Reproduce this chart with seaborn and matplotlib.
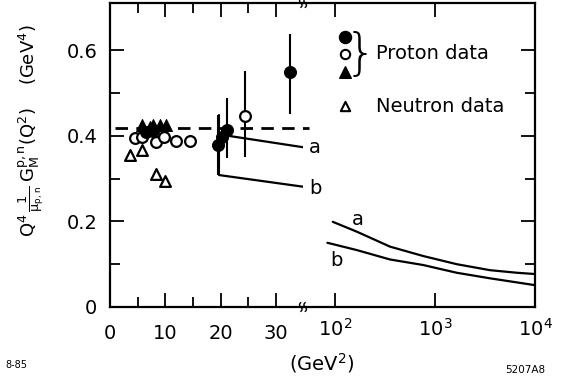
import matplotlib
matplotlib.use("Agg")
import matplotlib.pyplot as plt
from matplotlib.lines import Line2D
import seaborn as sns
import numpy as np
import pandas as pd

# ---------------- data ----------------
# proton data (filled circles)
fc_x = [6.6, 7.8, 19.5, 20.3, 21.1, 32.5]
fc_y = [0.409, 0.411, 0.378, 0.397, 0.413, 0.549]
# proton data (open circles)
oc_x = [4.5, 5.8, 8.4, 9.8, 12.0, 14.5, 24.4]
oc_y = [0.394, 0.398, 0.386, 0.398, 0.388, 0.388, 0.446]
# proton data (filled triangles)
ft_x = [5.7, 7.2, 7.8, 9.0, 10.2]
ft_y = [0.424, 0.420, 0.425, 0.424, 0.425]
# neutron data (open triangles)
ot_x = [3.7, 5.8, 8.4, 10.0]
ot_y = [0.355, 0.367, 0.310, 0.294]
# error bars
err_x = [19.5, 21.1, 24.4, 32.5]
err_lo = [0.308, 0.348, 0.350, 0.451]
err_hi = [0.448, 0.488, 0.551, 0.637]
err_y = [0.378, 0.413, 0.446, 0.549]
# dashed reference level
dash_x = [0.9, 36.0]
dash_y = [0.418, 0.418]
# model curves, linear region
la_x = [21.3, 35.0]
la_y = [0.400, 0.373]
lb_x = [19.8, 34.9]
lb_y = [0.308, 0.281]
# model curves, log region
ca_x = [95, 165, 355, 764, 1648, 3548, 6560, 10000]
ca_y = [0.199, 0.176, 0.141, 0.119, 0.100, 0.086, 0.080, 0.077]
cb_x = [84, 165, 355, 764, 1648, 3548, 10000]
cb_y = [0.150, 0.133, 0.111, 0.098, 0.080, 0.067, 0.051]

lin_ticks = [0, 10, 20, 30]
lin_minor = [5, 15, 25]
log_ticks = [100, 1000, 10000]
log_labels = ["$10^2$", "$10^3$", "$10^4$"]
y_ticks = [0, 0.2, 0.4, 0.6]
y_labels = ["0", "0.2", "0.4", "0.6"]
y_minor = [0.1, 0.3, 0.5]

# ---------------- style ----------------
sns.set_style("ticks")
plt.rcParams["font.family"] = ["DejaVu Sans"]
plt.rcParams["mathtext.default"] = "regular"
for k in ("text.color", "axes.labelcolor", "xtick.color", "ytick.color",
          "axes.edgecolor"):
    plt.rcParams[k] = "black"
FS = 14

W, H = 574, 378
fig = plt.figure(figsize=(W / 100, H / 100), dpi=100)
fig.patch.set_facecolor("white")

x0, xb, x1 = 110, 303, 535
y_top, y_bot = 3, 307
bottom = (H - y_bot) / H
height = (y_bot - y_top) / H
ax1 = fig.add_axes([x0 / W, bottom, (xb - x0) / W, height])
ax2 = fig.add_axes([xb / W, bottom, (x1 - xb) / W, height])
ax2.patch.set_visible(False)

YMAX = 0.71
for ax in (ax1, ax2):
    ax.set_ylim(0, YMAX)
    for s in ax.spines.values():
        s.set_linewidth(1.6)
        s.set_color("black")
ax1.set_facecolor("white")

ax1.set_xlim(0, 34.9)
ax2.set_xscale("log")
ax2.set_xlim(47.9, 1e4)

ax1.spines["right"].set_visible(False)
ax2.spines["left"].set_visible(False)

# ticks ax1
ax1.set_xticks(lin_ticks)
ax1.set_xticklabels([str(t) for t in lin_ticks], fontsize=FS)
ax1.set_xticks(lin_minor, minor=True)
ax1.set_yticks(y_ticks)
ax1.set_yticklabels(y_labels, fontsize=FS)
ax1.set_yticks(y_minor, minor=True)
ax1.tick_params(which="major", direction="in", length=10, width=1.3,
                top=True, right=False, pad=9, colors="black")
ax1.tick_params(which="minor", direction="in", length=7, width=1.3,
                top=True, right=False, colors="black")
ax1.tick_params(axis="x", which="major", pad=12)

# ticks ax2
ax2.set_xticks(log_ticks)
ax2.set_xticklabels(log_labels, fontsize=FS)
ax2.xaxis.set_minor_locator(matplotlib.ticker.NullLocator())
ax2.set_yticks(y_ticks)
ax2.set_yticks(y_minor, minor=True)
ax2.tick_params(axis="y", which="both", left=False, labelleft=False,
                right=True, labelright=False, direction="in", width=1.3,
                colors="black")
ax2.tick_params(axis="y", which="major", length=10)
ax2.tick_params(axis="y", which="minor", length=7)
ax2.tick_params(axis="x", which="major", direction="in", length=10, width=1.3,
                top=True, pad=8, colors="black")

# ---------------- marks ----------------
LW = 1.6
ax1.errorbar(err_x, err_y, yerr=[np.array(err_y) - np.array(err_lo),
                                  np.array(err_hi) - np.array(err_y)],
             fmt="none", ecolor="black", elinewidth=1.5, capsize=0, zorder=2)

ax1.plot(dash_x, dash_y, color="black", lw=2.0, ls=(0, (4.5, 3)),
         clip_on=False, zorder=2)

sns.lineplot(x=la_x, y=la_y, ax=ax1, color="black", lw=LW, sort=False,
             estimator=None, zorder=2)
sns.lineplot(x=lb_x, y=lb_y, ax=ax1, color="black", lw=LW, sort=False,
             estimator=None, zorder=2)
ax1.plot([lb_x[0], lb_x[0]], [err_hi[0], lb_y[0]], color="black", lw=1.5)

sns.scatterplot(x=oc_x, y=oc_y, ax=ax1, marker="o", s=60, facecolor="white",
                edgecolor="black", linewidth=1.6, zorder=3)
sns.scatterplot(x=ot_x, y=ot_y, ax=ax1, marker="^", s=60, facecolor="white",
                edgecolor="black", linewidth=1.6, zorder=3)
sns.scatterplot(x=ft_x, y=ft_y, ax=ax1, marker="^", s=75, color="black",
                edgecolor="black", zorder=4)
sns.scatterplot(x=fc_x, y=fc_y, ax=ax1, marker="o", s=75, color="black",
                edgecolor="black", zorder=4)

ax1.text(36.0, 0.373, "a", fontsize=FS, va="center", ha="left", clip_on=False)
ax1.text(36.0, 0.277, "b", fontsize=FS, va="center", ha="left", clip_on=False)

sns.lineplot(x=ca_x, y=ca_y, ax=ax2, color="black", lw=LW, sort=False,
             estimator=None)
sns.lineplot(x=cb_x, y=cb_y, ax=ax2, color="black", lw=LW, sort=False,
             estimator=None)
ax2.text(170, 0.205, "a", fontsize=FS, va="center", ha="center")
ax2.text(104, 0.108, "b", fontsize=FS, va="center", ha="center")

# legend (hand drawn like the original)
leg_x = 126
ax2.scatter([leg_x], [0.630], marker="o", s=75, color="black", zorder=5)
ax2.scatter([leg_x], [0.591], marker="o", s=45, facecolor="white",
            edgecolor="black", linewidth=1.5, zorder=5)
ax2.scatter([leg_x], [0.549], marker="^", s=70, color="black", zorder=5)
ax2.scatter([leg_x], [0.469], marker="^", s=45, facecolor="white",
            edgecolor="black", linewidth=1.5, zorder=5)
ax2.text(178, 0.589, "}", fontsize=36, va="center", ha="center",
         fontweight="light")
ax2.text(255, 0.592, "Proton data", fontsize=FS, va="center", ha="left")
ax2.text(255, 0.469, "Neutron data", fontsize=FS, va="center", ha="left")

# axis break marks: two small wavy strokes across each horizontal spine
t = np.linspace(-1, 1, 15)
for yy in (y_top, y_bot):
    for dx in (-2.2, 2.2):
        xs = (xb + dx + 1.3 * np.sin(t * np.pi)) / W
        ys = 1 - (yy + 4.5 * t) / H
        fig.add_artist(Line2D(xs, ys, color="black", lw=1.0,
                              transform=fig.transFigure))

# axis labels
fig.text(322 / W, 1 - 363 / H, "(GeV$^2$)", fontsize=FS, ha="center",
         va="center")
fig.text(31 / W, 1 - 131 / H,
         r"$Q^4\,\frac{1}{\mu_{p,n}}\,G_M^{p,n}(Q^2)$" + "    (GeV$^4$)",
         fontsize=13, rotation=90, ha="center", va="center")

fig.text(5 / W, 1 - 365 / H, "8-85", fontsize=7, ha="left", va="center")
fig.text(525 / W, 1 - 370 / H, "5207A8", fontsize=7.5, ha="center",
         va="center")

fig.savefig("out.png", dpi=100)
